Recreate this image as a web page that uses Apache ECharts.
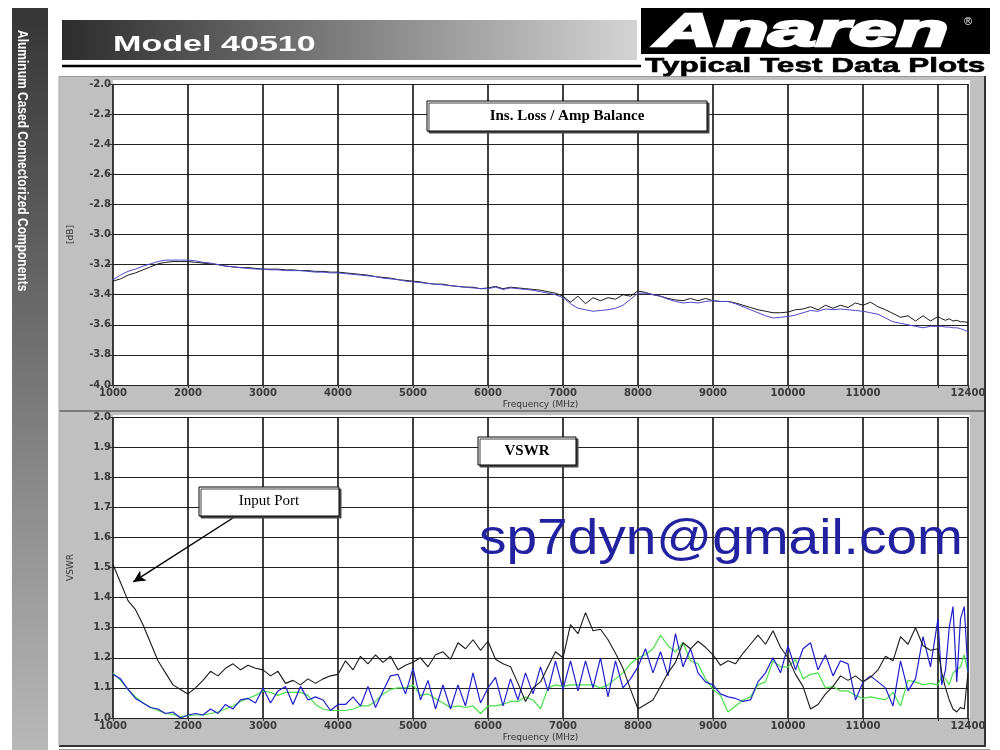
<!DOCTYPE html>
<html><head><meta charset="utf-8">
<script src="https://cdn.jsdelivr.net/npm/echarts@6/dist/echarts.min.js"></script>
<style>html,body{margin:0;padding:0;background:#fff}#c{width:1000px;height:750px}</style>
</head><body><div id="c"></div>
<script>
// Sweep frequencies (MHz)
const freq = [1000,1100,1200,1300,1400,1500,1600,1700,1800,1900,
2000,2100,2200,2300,2400,2500,2600,2700,2800,2900,
3000,3100,3200,3300,3400,3500,3600,3700,3800,3900,
4000,4100,4200,4300,4400,4500,4600,4700,4800,4900,
5000,5100,5200,5300,5400,5500,5600,5700,5800,5900,
6000,6100,6200,6300,6400,6500,6600,6700,6800,6900,
7000,7100,7200,7300,7400,7500,7600,7700,7800,7900,
8000,8100,8200,8300,8400,8500,8600,8700,8800,8900,
9000,9100,9200,9300,9400,9500,9600,9700,9800,9900,
10000,10100,10200,10300,10400,10500,10600,10700,10800,10900,
11000,11100,11200,11300,11400,11500,11600,11700,11800,11900,
12000,12050,12100,12150,12200,12250,12300,12350,12400];

// Ins. Loss / Amp Balance (dB)
const lossA = [-3.31,-3.295,-3.27,-3.255,-3.235,-3.215,-3.195,-3.185,-3.18,-3.18,
-3.18,-3.185,-3.19,-3.195,-3.20,-3.21,-3.215,-3.22,-3.22,-3.225,
-3.23,-3.23,-3.23,-3.235,-3.235,-3.24,-3.24,-3.245,-3.245,-3.25,
-3.25,-3.255,-3.26,-3.265,-3.27,-3.28,-3.285,-3.29,-3.30,-3.305,
-3.31,-3.315,-3.325,-3.33,-3.33,-3.34,-3.345,-3.35,-3.35,-3.36,
-3.355,-3.345,-3.36,-3.35,-3.355,-3.36,-3.365,-3.37,-3.38,-3.39,
-3.41,-3.45,-3.41,-3.46,-3.42,-3.44,-3.42,-3.43,-3.40,-3.41,
-3.375,-3.385,-3.40,-3.41,-3.425,-3.435,-3.44,-3.425,-3.44,-3.425,
-3.44,-3.445,-3.445,-3.455,-3.47,-3.485,-3.50,-3.51,-3.52,-3.52,
-3.515,-3.50,-3.495,-3.48,-3.50,-3.47,-3.49,-3.47,-3.485,-3.455,
-3.47,-3.45,-3.48,-3.50,-3.525,-3.55,-3.54,-3.575,-3.54,-3.575,
-3.545,-3.56,-3.57,-3.56,-3.575,-3.57,-3.58,-3.58,-3.585];
const lossB = [-3.30,-3.27,-3.245,-3.23,-3.21,-3.195,-3.18,-3.17,-3.17,-3.17,
-3.17,-3.175,-3.185,-3.19,-3.20,-3.21,-3.215,-3.22,-3.225,-3.23,
-3.23,-3.235,-3.235,-3.24,-3.24,-3.24,-3.245,-3.25,-3.25,-3.255,
-3.255,-3.26,-3.265,-3.27,-3.275,-3.28,-3.29,-3.295,-3.30,-3.31,
-3.315,-3.32,-3.325,-3.33,-3.335,-3.34,-3.345,-3.35,-3.355,-3.36,
-3.36,-3.35,-3.365,-3.355,-3.36,-3.365,-3.37,-3.38,-3.39,-3.40,
-3.42,-3.46,-3.49,-3.50,-3.51,-3.505,-3.50,-3.49,-3.47,-3.43,
-3.39,-3.39,-3.40,-3.41,-3.43,-3.445,-3.455,-3.45,-3.455,-3.445,
-3.44,-3.445,-3.445,-3.46,-3.48,-3.50,-3.52,-3.54,-3.555,-3.55,
-3.545,-3.535,-3.52,-3.505,-3.51,-3.495,-3.50,-3.495,-3.50,-3.505,
-3.51,-3.52,-3.53,-3.555,-3.58,-3.59,-3.60,-3.61,-3.62,-3.61,
-3.61,-3.61,-3.615,-3.615,-3.62,-3.62,-3.625,-3.635,-3.645];

// VSWR
const vswrInput = [1.51,1.45,1.39,1.36,1.31,1.25,1.19,1.15,1.11,1.095,
1.08,1.10,1.125,1.155,1.14,1.165,1.18,1.16,1.175,1.165,
1.16,1.14,1.155,1.115,1.125,1.11,1.13,1.115,1.13,1.14,
1.145,1.19,1.16,1.205,1.18,1.21,1.185,1.205,1.16,1.175,
1.185,1.20,1.17,1.21,1.22,1.195,1.25,1.23,1.26,1.225,
1.255,1.195,1.18,1.17,1.115,1.055,1.10,1.12,1.17,1.22,
1.20,1.31,1.28,1.35,1.29,1.295,1.26,1.215,1.165,1.095,
1.03,1.045,1.06,1.105,1.15,1.185,1.25,1.23,1.255,1.235,
1.21,1.175,1.19,1.18,1.215,1.245,1.275,1.245,1.29,1.235,
1.20,1.145,1.105,1.03,1.045,1.08,1.105,1.14,1.125,1.14,
1.12,1.135,1.16,1.205,1.19,1.27,1.245,1.30,1.24,1.225,
1.23,1.15,1.10,1.06,1.03,1.02,1.035,1.03,1.15];
const vswrOutA = [1.145,1.13,1.095,1.065,1.05,1.035,1.03,1.015,1.02,1.0,
1.01,1.015,1.01,1.03,1.015,1.045,1.03,1.06,1.065,1.05,
1.10,1.05,1.09,1.105,1.045,1.105,1.06,1.07,1.06,1.025,
1.045,1.045,1.07,1.04,1.105,1.035,1.09,1.14,1.145,1.08,
1.165,1.06,1.125,1.03,1.11,1.03,1.11,1.04,1.15,1.05,
1.10,1.135,1.04,1.13,1.06,1.15,1.08,1.17,1.09,1.19,
1.095,1.19,1.09,1.19,1.10,1.20,1.07,1.19,1.10,1.13,
1.17,1.23,1.15,1.22,1.14,1.28,1.17,1.23,1.15,1.12,
1.11,1.08,1.07,1.065,1.055,1.06,1.12,1.15,1.20,1.15,
1.24,1.16,1.23,1.25,1.16,1.21,1.14,1.19,1.18,1.06,
1.12,1.14,1.12,1.10,1.04,1.19,1.09,1.13,1.27,1.17,
1.33,1.11,1.16,1.30,1.37,1.12,1.33,1.37,1.15];
const vswrOutB = [1.15,1.125,1.095,1.07,1.05,1.035,1.025,1.015,1.012,1.005,
1.008,1.01,1.01,1.015,1.02,1.03,1.04,1.055,1.065,1.075,
1.09,1.085,1.075,1.085,1.085,1.085,1.075,1.045,1.03,1.025,
1.025,1.025,1.03,1.04,1.04,1.055,1.08,1.095,1.10,1.10,
1.11,1.075,1.08,1.065,1.05,1.035,1.04,1.035,1.04,1.015,
1.04,1.04,1.045,1.055,1.055,1.07,1.06,1.03,1.10,1.11,
1.105,1.11,1.11,1.11,1.11,1.10,1.11,1.13,1.15,1.18,
1.20,1.21,1.23,1.275,1.24,1.22,1.25,1.19,1.18,1.13,
1.095,1.075,1.02,1.04,1.06,1.07,1.11,1.12,1.19,1.17,
1.17,1.195,1.13,1.145,1.15,1.10,1.105,1.09,1.09,1.075,
1.065,1.07,1.065,1.06,1.085,1.04,1.125,1.12,1.11,1.115,
1.11,1.14,1.13,1.11,1.15,1.16,1.17,1.21,1.15];

// Tick labels shown on the frequency axis
const freqTickLabels = [1000,2000,3000,4000,5000,6000,7000,8000,9000,10000,11000,12400];

const pair = ys => freq.map((f, i) => [f, ys[i]]);

const chart = echarts.init(document.getElementById('c'), null, {renderer: 'canvas'});
const LBL = {fontFamily: 'DejaVu Sans', fontSize: 10, fontWeight: 'bold', color: '#3a3a3a'};
const G = [{left: 113, top: 84, width: 855, height: 301}, {left: 113, top: 417, width: 855, height: 301}];

function xAxis(gi) {
  return {
    type: 'value', gridIndex: gi, min: 1000, max: 12400, interval: 1000,
    name: 'Frequency (MHz)', nameLocation: 'middle', nameGap: 15,
    nameTextStyle: {fontFamily: 'DejaVu Sans', fontSize: 9, color: '#333'},
    axisLine: {show: false},
    axisTick: {show: true, length: 3, lineStyle: {color: '#333'}},
    axisLabel: Object.assign({margin: 3, formatter: v => freqTickLabels.includes(v) ? String(v) : ''}, LBL),
    splitLine: {show: true, lineStyle: {color: '#111', width: 1.6}}
  };
}
function yAxis(gi, min, max, step, name) {
  return {
    type: 'value', gridIndex: gi, min: min, max: max, interval: step,
    name: name, nameLocation: 'middle', nameGap: 38,
    nameTextStyle: {fontFamily: 'DejaVu Sans', fontSize: 9, color: '#333'},
    axisLine: {show: false},
    axisTick: {show: true, length: 5, lineStyle: {color: '#333', width: 1}},
    axisLabel: Object.assign({margin: 2, formatter: v => v.toFixed(1)}, LBL),
    splitLine: {show: true, lineStyle: {color: '#222', width: 1.2}}
  };
}

function box(x, y, w, h, text, bold) {
  return [
    {type: 'rect', z: 100, shape: {x: x, y: y, width: w, height: h},
     style: {fill: '#fff', stroke: '#000', lineWidth: 1, shadowColor: '#444', shadowOffsetX: 2, shadowOffsetY: 2, shadowBlur: 0}},
    {type: 'text', z: 101, x: x + w / 2, y: y + h / 2,
     style: {text: text, fill: '#000', align: 'center', verticalAlign: 'middle',
       font: (bold ? 'bold ' : '') + '15px "Liberation Serif", "Times New Roman", serif'}}
  ];
}

const graphics = [
  // left banner
  {type: 'rect', z: -10, shape: {x: 12, y: 8, width: 36, height: 742},
   style: {fill: new echarts.graphic.LinearGradient(0, 0, 0, 1, [{offset: 0, color: '#353535'}, {offset: 1, color: '#b8b8b8'}])}},
  {type: 'text', z: 5, x: 22, y: 30, rotation: -Math.PI / 2, scaleX: 0.8,
   style: {text: 'Aluminum Cased Connectorized Components', fill: '#fff', align: 'left', verticalAlign: 'middle',
     font: 'bold 15px "Liberation Sans", Arial, sans-serif'}},
  // header bar
  {type: 'rect', z: -10, shape: {x: 62, y: 20, width: 575, height: 40},
   style: {fill: new echarts.graphic.LinearGradient(0, 0, 1, 0, [{offset: 0, color: '#2c2c2c'}, {offset: 1, color: '#d4d4d4'}])}},
  {type: 'text', z: 5, x: 113, y: 45, scaleX: 1.55,
   style: {text: 'Model 40510', fill: '#fff', align: 'left', verticalAlign: 'middle',
     font: 'bold 22px "Liberation Sans", Arial, sans-serif'}},
  {type: 'line', z: 5, shape: {x1: 62, y1: 66, x2: 641, y2: 66}, style: {stroke: '#000', lineWidth: 2.5}},
  // logo
  {type: 'rect', z: -10, shape: {x: 641, y: 8, width: 349, height: 46}, style: {fill: '#000'}},
  {type: 'text', z: 5, x: 655, y: 33, scaleX: 1.85,
   style: {text: 'Anaren', fill: '#fff', stroke: '#fff', lineWidth: 2.5, align: 'left', verticalAlign: 'middle',
     font: 'italic bold 46px "Liberation Sans", Arial, sans-serif'}},
  {type: 'text', z: 5, x: 968, y: 22,
   style: {text: '®', fill: '#fff', align: 'center', verticalAlign: 'middle', font: '11px "Liberation Sans", Arial, sans-serif'}},
  {type: 'text', z: 5, x: 645, y: 66, scaleX: 1.5,
   style: {text: 'Typical Test Data Plots', fill: '#000', stroke: '#000', lineWidth: 0.6, align: 'left', verticalAlign: 'middle',
     font: 'bold 21px "Liberation Sans", Arial, sans-serif'}},
  // panels
  {type: 'rect', z: -10, shape: {x: 59, y: 76, width: 926, height: 670}, style: {fill: '#c0c0c0'}},
  {type: 'rect', z: -9, shape: {x: 113, y: 80, width: 857, height: 305}, style: {fill: '#fff'}},
  {type: 'rect', z: -9, shape: {x: 113, y: 415, width: 857, height: 303}, style: {fill: '#fff'}},
  {type: 'line', z: -8, shape: {x1: 59, y1: 76.5, x2: 985, y2: 76.5}, style: {stroke: '#9a9a9a', lineWidth: 1}},
  {type: 'line', z: -8, shape: {x1: 59, y1: 411, x2: 985, y2: 411}, style: {stroke: '#666', lineWidth: 1.5}},
  {type: 'line', z: -8, shape: {x1: 985, y1: 76, x2: 985, y2: 746}, style: {stroke: '#333', lineWidth: 2}},
  {type: 'line', z: -8, shape: {x1: 59, y1: 746, x2: 986, y2: 746}, style: {stroke: '#333', lineWidth: 2}},
  {type: 'line', z: -8, shape: {x1: 59, y1: 749.5, x2: 990, y2: 749.5}, style: {stroke: '#999', lineWidth: 1}},
  {type: 'line', z: -8, shape: {x1: 59, y1: 76, x2: 59, y2: 746}, style: {stroke: '#aaa', lineWidth: 1}},
  // annotations
  ...box(427, 101, 280, 30, 'Ins. Loss / Amp Balance', true),
  ...box(478, 437, 98, 28, 'VSWR', true),
  ...box(199, 487, 140, 29, 'Input Port', false),
  {type: 'text', z: 110, x: 479, y: 540, scaleX: 1.1,
   style: {text: 'sp7dyn@gmail.com', fill: '#2222a0', align: 'left', verticalAlign: 'middle',
     font: '50px "Liberation Sans", Arial, sans-serif'}}
];

const option = {
  backgroundColor: '#fff',
  animation: false,
  grid: G,
  xAxis: [xAxis(0), xAxis(1)],
  yAxis: [yAxis(0, -4, -2, 0.2, '[dB]'), yAxis(1, 1, 2, 0.1, 'VSWR')],
  graphic: {elements: graphics},
  series: [
    {type: 'line', xAxisIndex: 0, yAxisIndex: 0, data: pair(lossA), showSymbol: false, lineStyle: {color: '#1a1a1a', width: 1}},
    {type: 'line', xAxisIndex: 0, yAxisIndex: 0, data: pair(lossB), showSymbol: false, lineStyle: {color: '#4a48c8', width: 1}},
    {type: 'line', xAxisIndex: 1, yAxisIndex: 1, data: pair(vswrOutB), showSymbol: false, lineStyle: {color: '#48e048', width: 1.2}},
    {type: 'line', xAxisIndex: 1, yAxisIndex: 1, data: pair(vswrOutA), showSymbol: false, lineStyle: {color: '#2020cc', width: 1.2}},
    {type: 'line', xAxisIndex: 1, yAxisIndex: 1, data: pair(vswrInput), showSymbol: false, lineStyle: {color: '#1a1a1a', width: 1.1},
     markLine: {silent: true, symbol: ['none', 'arrow'], symbolSize: [9, 12], label: {show: false},
       lineStyle: {color: '#000', width: 1.4, type: 'solid'},
       data: [[{coord: [2640, 1.671]}, {coord: [1270, 1.452]}]]}}
  ]
};
chart.setOption(option);
</script></body></html>
